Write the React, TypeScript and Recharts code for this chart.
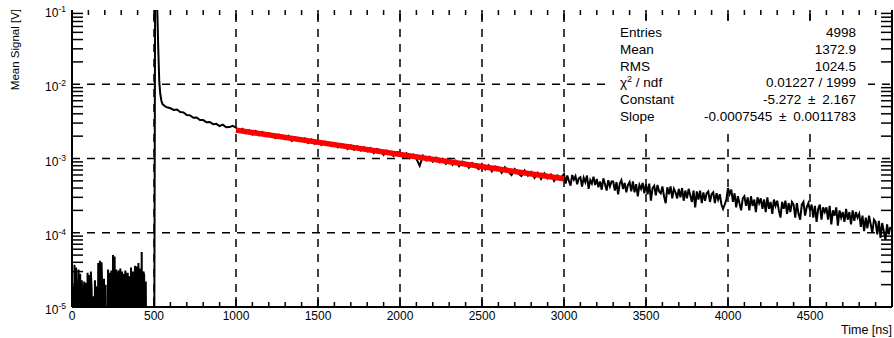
import React from "react";
import { LineChart, Line, XAxis, YAxis, ReferenceLine } from "recharts";

const FONT = "'Liberation Sans', Arial, Helvetica, sans-serif";

// pedestal before the pulse: 5 ns bins from 0, units of 1e-5 V (0 = empty bin)
const pedestal = [
  0, 1.9, 0, 3.7, 0, 3.4, 1.2, 0, 3.2, 0,
  2.8, 0, 2.3, 0, 1.5, 2.2, 0, 2.1, 0, 2.9,
  0, 2.7, 0, 3.0, 1.7, 0, 1.4, 0, 2.3, 0,
  1.9, 0, 3.9, 0, 4.2, 0, 4.0, 1.6, 0, 2.4,
  0, 2.0, 0, 0, 3.2, 0, 2.9, 0, 3.1, 0,
  5.0, 0, 4.8, 0, 3.2, 0, 2.6, 3.1, 0, 3.3,
  0, 3.0, 0, 2.8, 0, 3.1, 2.5, 0, 2.9, 0,
  2.6, 0, 3.4, 0, 3.0, 0, 2.4, 3.6, 0, 3.5,
  0, 3.9, 0, 3.3, 0, 5.5, 0, 3.0, 2.7, 0,
  2.2, 0, 0, 0, 0, 0, 0, 0, 0, 0,
];

// the pulse itself, in V
const pulseTimes = [500, 507, 512, 520, 526, 532, 538, 545, 552, 560, 570, 585];
const pulseValues = [0, 0.25, 0.3, 0.1, 0.03, 0.011, 7.5e-3, 6.0e-3, 5.4e-3, 5.2e-3, 5.0e-3, 4.85e-3];

// early tail: 20 ns steps from 600, units of 1e-4 V
const earlyTail = [
  47.5, 45.0, 45.6, 42.2, 41.8, 38.5, 38.1, 35.3, 35.6, 33.0,
  32.9, 30.8, 31.1, 29.0, 29.3, 27.4, 28.6, 26.3, 26.5, 27.6,
];

// fitted range: 20 ns steps from 1000, units of 1e-4 V
const midTail = [
  26.0, 23.2, 25.1, 22.0, 24.0, 21.0, 23.4, 20.6, 22.8, 20.1,
  21.9, 20.9, 18.8, 21.0, 19.5, 18.2, 20.2, 17.3, 19.3, 18.6,
  17.2, 18.6, 16.2, 18.0, 15.8, 17.4, 15.2, 16.8, 16.0, 14.8,
  16.2, 14.2, 15.7, 15.0, 13.4, 15.0, 13.1, 14.5, 12.8, 14.2,
  12.5, 13.8, 11.8, 13.4, 12.9, 11.2, 12.8, 12.1, 10.8, 12.2,
  12.0, 10.5, 11.7, 10.1, 11.3, 9.9, 8.0, 10.9, 9.4, 10.5,
  9.1, 10.3, 8.9, 9.9, 8.5, 9.6, 8.2, 9.3, 7.9, 9.1,
  8.7, 7.5, 8.7, 7.8, 7.2, 8.4, 7.1, 8.1, 6.7, 7.8,
  7.6, 6.4, 7.6, 6.7, 6.0, 7.2, 6.3, 5.8, 6.9, 5.9,
  6.6, 5.5, 6.4, 5.3, 6.3, 5.4, 6.1, 5.0, 5.9, 5.5,
];

// late tail: 10 ns steps from 3000, units of 1e-4 V
const lateTail = [
  6.2, 4.6, 5.9, 5.0, 4.3, 6.0, 5.2, 5.8, 4.5, 5.4,
  5.6, 4.2, 5.5, 4.8, 5.9, 3.9, 5.1, 4.6, 5.7, 4.4,
  5.3, 4.1, 4.9, 3.8, 5.4, 4.5, 3.7, 5.1, 4.2, 4.9,
  4.9, 3.7, 4.8, 3.3, 4.6, 5.1, 3.9, 4.7, 3.5, 4.4,
  4.8, 3.6, 4.9, 3.5, 4.5, 3.1, 4.4, 3.9, 4.7, 3.4,
  4.5, 3.3, 4.6, 2.7, 4.0, 4.3, 3.2, 4.4, 3.6, 3.4,
  4.2, 3.1, 2.5, 4.1, 3.3, 4.2, 2.9, 3.9, 3.5, 2.9,
  3.9, 3.0, 4.0, 2.7, 3.7, 2.9, 3.9, 3.2, 2.6, 3.7,
  2.2, 3.6, 2.8, 3.7, 2.5, 3.5, 2.7, 3.4, 3.6, 2.6,
  3.3, 3.5, 2.5, 3.4, 2.8, 3.3, 2.4, 2.1, 2.4, 2.8,
  4.0, 3.3, 3.8, 2.6, 3.4, 2.2, 3.1, 2.5, 2.0, 2.9,
  3.1, 2.3, 3.0, 2.0, 3.1, 2.3, 2.8, 1.9, 3.0, 2.5,
  2.9, 2.1, 2.8, 1.9, 3.0, 2.1, 2.6, 1.8, 2.8, 2.3,
  2.7, 2.0, 1.6, 2.6, 2.1, 2.7, 1.8, 2.5, 1.9, 2.6,
  2.4, 1.6, 2.5, 1.8, 1.5, 2.4, 2.6, 1.7, 2.2, 2.5,
  2.0, 2.4, 1.6, 2.3, 1.4, 2.1, 2.4, 1.5, 2.2, 1.9,
  2.2, 1.5, 2.3, 1.3, 2.0, 1.7, 2.2, 1.25, 2.0, 1.6,
  1.9, 1.4, 2.1, 1.5, 1.9, 1.3, 2.0, 1.45, 1.9, 1.6,
  1.8, 1.2, 1.7, 1.05, 1.6, 1.15, 1.7, 1.3, 1.0, 1.5,
  1.4, 0.95, 1.45, 0.85, 1.35, 1.05, 0.8, 1.3, 0.95, 1.2,
];

// exponential fit, drawn between its range ends
const fitTimes = [1000, 3000];
const fitValues = [2.41e-3, 5.34e-4];

const xLabels = [0, 500, 1000, 1500, 2000, 2500, 3000, 3500, 4000, 4500];
const xGrid = [500, 1000, 1500, 2000, 2500, 3000, 3500, 4000, 4500];
const yDecades = [1e-5, 1e-4, 1e-3, 1e-2, 1e-1];
const yGrid = [1e-4, 1e-3, 1e-2];

const stats: [string, string][] = [
  ["Entries", "4998"],
  ["Mean", "1372.9"],
  ["RMS", "1024.5"],
  ["chi2", "0.01227 / 1999"],
  ["Constant", "-5.272\u2002\u00b1\u20022.167"],
  ["Slope", "-0.0007545\u2002\u00b1\u20020.0011783"],
];

const EMPTY = 1e-7; // empty bins sit below the frame

type Row = { t: number; v: number; fit?: number };
const rows: Row[] = [];
pedestal.forEach((v, i) => rows.push({ t: i * 5, v: v > 0 ? v * 1e-5 : EMPTY }));
pulseTimes.forEach((t, i) => rows.push({ t, v: pulseValues[i] > 0 ? pulseValues[i] : EMPTY }));
earlyTail.forEach((v, i) => rows.push({ t: 600 + i * 20, v: v * 1e-4 }));
midTail.forEach((v, i) => rows.push({ t: 1000 + i * 20, v: v * 1e-4 }));
lateTail.forEach((v, i) => rows.push({ t: 3000 + i * 10, v: v * 1e-4 }));
fitTimes.forEach((t, i) => {
  const r = rows.find((d) => d.t === t);
  if (r) r.fit = fitValues[i];
});

const X_MAX = 5000;
const Y_MIN = 1e-5;
const Y_MAX = 1e-1;

const xTicks: number[] = [];
for (let t = 100; t < X_MAX; t += 100) xTicks.push(t);
const yTicks: number[] = [];
yDecades.slice(0, -1).forEach((d) => {
  for (let k = 2; k <= 9; k++) yTicks.push(k * d);
});

// inner tick marks are short segments; lengths in px converted to data units
const PX_PER_DECADE = 297 / 4;
const NS_PER_PX = X_MAX / 820;
const logShift = (v: number, px: number) => v * Math.pow(10, px / PX_PER_DECADE);

const isDecade = (v: number) => {
  const l = Math.log10(v);
  return Math.abs(l - Math.round(l)) < 1e-6;
};

function BottomLabel(props: any) {
  const { x, y, payload } = props;
  return (
    <text x={x} y={y + 13} textAnchor="middle" fontSize={12} fontFamily={FONT} fill="#000">
      {payload.value}
    </text>
  );
}

function LeftLabel(props: any) {
  const { x, y, payload } = props;
  const v = payload.value;
  if (!isDecade(v)) return <g />;
  return (
    <text x={x - 6} y={y + 7} textAnchor="end" fontSize={12} fontFamily={FONT} fill="#000">
      10
      <tspan dy={-5} fontSize={8.5}>
        {Math.round(Math.log10(v))}
      </tspan>
    </text>
  );
}

const frame = { stroke: "#000", strokeWidth: 2 };
const tickStyle = { stroke: "#000", strokeWidth: 1.5, ifOverflow: "visible" as const };

export default function App() {
  return (
    <div style={{ position: "absolute", left: 0, top: 0, width: 894, height: 338 }}>
      <LineChart width={894} height={338} data={rows} margin={{ top: 10, right: 1, bottom: 0, left: 0 }}>
        {xGrid.map((v) => (
          <ReferenceLine key={"gx" + v} x={v} stroke="#000" strokeWidth={1.5} strokeDasharray="8 7" />
        ))}
        {yGrid.map((v) => (
          <ReferenceLine key={"gy" + v} y={v} stroke="#000" strokeWidth={1.5} strokeDasharray="8 7" />
        ))}
        <Line
          type="linear"
          dataKey="v"
          stroke="#000"
          strokeWidth={2}
          dot={false}
          activeDot={false}
          isAnimationActive={false}
        />
        <Line
          type="linear"
          dataKey="fit"
          stroke="#ff0000"
          strokeWidth={5.5}
          dot={false}
          activeDot={false}
          connectNulls
          isAnimationActive={false}
        />
        {xTicks.map((t) => {
          const len = t % 500 === 0 ? 10 : 5;
          return [
            <ReferenceLine
              key={"bt" + t}
              {...tickStyle}
              segment={[{ x: t, y: Y_MIN }, { x: t, y: logShift(Y_MIN, len) }]}
            />,
            <ReferenceLine
              key={"tt" + t}
              {...tickStyle}
              segment={[{ x: t, y: Y_MAX }, { x: t, y: logShift(Y_MAX, -len) }]}
            />,
          ];
        })}
        {yTicks.map((v) => {
          const len = 11 * NS_PER_PX;
          return [
            <ReferenceLine key={"lt" + v} {...tickStyle} segment={[{ x: 0, y: v }, { x: len, y: v }]} />,
            <ReferenceLine key={"rt" + v} {...tickStyle} segment={[{ x: X_MAX, y: v }, { x: X_MAX - len, y: v }]} />,
          ];
        })}
        <XAxis
          dataKey="t"
          type="number"
          domain={[0, X_MAX]}
          allowDataOverflow
          ticks={xLabels}
          interval={0}
          tick={<BottomLabel />}
          tickLine={false}
          tickSize={0}
          tickMargin={0}
          height={31}
          axisLine={frame}
        />
        <XAxis
          xAxisId="top"
          orientation="top"
          dataKey="t"
          type="number"
          domain={[0, X_MAX]}
          allowDataOverflow
          tick={false}
          tickLine={false}
          height={0}
          axisLine={frame}
        />
        <YAxis
          type="number"
          scale="log"
          domain={[Y_MIN, Y_MAX]}
          allowDataOverflow
          ticks={yDecades}
          interval={0}
          tick={<LeftLabel />}
          tickLine={false}
          tickSize={0}
          tickMargin={0}
          width={72}
          axisLine={frame}
        />
        <YAxis
          yAxisId="right"
          orientation="right"
          type="number"
          scale="log"
          domain={[Y_MIN, Y_MAX]}
          allowDataOverflow
          tick={false}
          tickLine={false}
          width={1}
          axisLine={frame}
        />
      </LineChart>
      <svg
        width={894}
        height={338}
        style={{ position: "absolute", left: 0, top: 0, pointerEvents: "none" }}
        fontFamily={FONT}
      >
        <text transform="translate(19, 9) rotate(-90)" textAnchor="end" fontSize={11.5} fill="#000">
          Mean Signal [V]
        </text>
        <text x={892} y={334} textAnchor="end" fontSize={12.5} fill="#000">
          Time [ns]
        </text>
        <rect x={607} y={21} width={261} height={108} fill="#fff" />
        {stats.map(([name, value], i) => {
          const y = 36.8 + i * 16.85;
          return (
            <g key={name} fontSize={13.5} fill="#000">
              {name === "chi2" ? (
                <text x={620} y={y}>
                  {"\u03c7"}
                  <tspan dy={-5} fontSize={9}>
                    2
                  </tspan>
                  <tspan dy={5}>{" / ndf"}</tspan>
                </text>
              ) : (
                <text x={620} y={y}>
                  {name}
                </text>
              )}
              <text x={856} y={y} textAnchor="end">
                {value}
              </text>
            </g>
          );
        })}
      </svg>
    </div>
  );
}
